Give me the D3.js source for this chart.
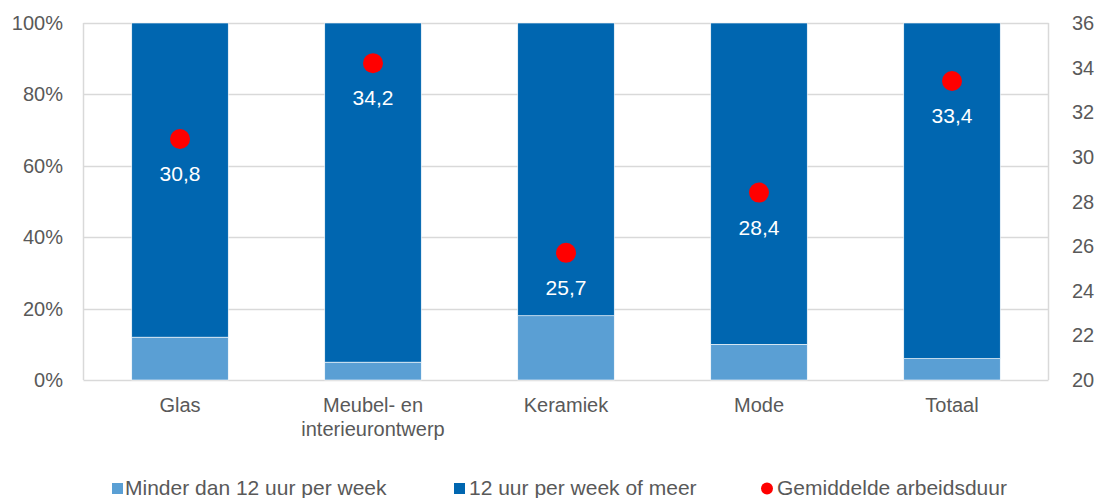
<!DOCTYPE html>
<html>
<head>
<meta charset="utf-8">
<script src="https://cdn.jsdelivr.net/npm/d3@7"></script>
<style>
  body { margin: 0; background: #fff; }
  svg text { font-family: Arial, "Liberation Sans", sans-serif; }
</style>
</head>
<body>
<div class="chart"></div>
<script>
    // Data
    var categories = ["Glas", "Meubel- en interieurontwerp", "Keramiek", "Mode", "Totaal"];
    var categoryLines = [["Glas"], ["Meubel- en", "interieurontwerp"], ["Keramiek"], ["Mode"], ["Totaal"]];
    var minderDan12 = [0.12, 0.05, 0.18, 0.10, 0.06];
    var twaalfOfMeer = [0.88, 0.95, 0.82, 0.90, 0.94];
    var gemiddeldeDuur = [30.8, 34.2, 25.7, 28.4, 33.4];
    var leftTicks = [0, 0.2, 0.4, 0.6, 0.8, 1];
    var rightTicks = [20, 22, 24, 26, 28, 30, 32, 34, 36];
    var seriesNames = ["Minder dan 12 uur per week", "12 uur per week of meer", "Gemiddelde arbeidsduur"];

    var width = 1100, height = 498;
    var plot = { left: 83.5, right: 1048.5, top: 23, bottom: 380 };
    var lightBlue = "#5A9FD4", darkBlue = "#0066B0", red = "#FF0000";
    var textGray = "#595959", gridGray = "#D9D9D9";

    var svg = d3.select(".chart").append("svg")
                .attr("width", width)
                .attr("height", height);

    var x = d3.scaleBand()
              .domain(categories)
              .range([plot.left, plot.right])
              .paddingInner(0.5)
              .paddingOuter(0.25);

    var yLeft = d3.scaleLinear().domain([0, 1]).range([plot.bottom, plot.top]);
    var yRight = d3.scaleLinear().domain([20, 36]).range([plot.bottom, plot.top]);

    // gridlines
    svg.append("g")
       .selectAll("line")
       .data(leftTicks)
       .enter()
       .append("line")
       .attr("x1", plot.left)
       .attr("x2", plot.right)
       .attr("y1", function(d) { return Math.round(yLeft(d)) + 0.5; })
       .attr("y2", function(d) { return Math.round(yLeft(d)) + 0.5; })
       .attr("stroke", gridGray)
       .attr("stroke-width", 1.5);

    // plot area border sides
    svg.append("g")
       .selectAll("line")
       .data([plot.left, plot.right])
       .enter()
       .append("line")
       .attr("x1", function(d) { return d; })
       .attr("x2", function(d) { return d; })
       .attr("y1", plot.top)
       .attr("y2", plot.bottom)
       .attr("stroke", gridGray)
       .attr("stroke-width", 1.5);

    // stacked bars
    var stackRows = categories.map(function(c, i) {
        return { cat: c, low: minderDan12[i], high: twaalfOfMeer[i] };
    });
    var stacked = d3.stack().keys(["low", "high"])(stackRows);
    var colors = { low: lightBlue, high: darkBlue };

    svg.append("g")
       .selectAll("g")
       .data(stacked)
       .enter()
       .append("g")
       .attr("fill", function(d) { return colors[d.key]; })
       .selectAll("rect")
       .data(function(d) { return d; })
       .enter()
       .append("rect")
       .attr("x", function(d) { return x(d.data.cat); })
       .attr("width", x.bandwidth())
       .attr("y", function(d) { return yLeft(d[1]); })
       .attr("height", function(d) { return yLeft(d[0]) - yLeft(d[1]); })
       .attr("stroke", "#fff")
       .attr("stroke-width", 0.6);

    // dots + labels
    var dots = svg.append("g");
    dots.selectAll("circle")
        .data(gemiddeldeDuur)
        .enter()
        .append("circle")
        .attr("cx", function(d, i) { return x(categories[i]) + x.bandwidth() / 2; })
        .attr("cy", function(d) { return yRight(d); })
        .attr("r", 10)
        .attr("fill", red);

    dots.selectAll("text")
        .data(gemiddeldeDuur)
        .enter()
        .append("text")
        .attr("x", function(d, i) { return x(categories[i]) + x.bandwidth() / 2; })
        .attr("y", function(d) { return yRight(d) + 42; })
        .attr("text-anchor", "middle")
        .attr("fill", "#fff")
        .attr("font-size", "21px")
        .text(function(d) { return d.toFixed(1).replace(".", ","); });

    // left axis labels
    svg.append("g")
       .selectAll("text")
       .data(leftTicks)
       .enter()
       .append("text")
       .attr("x", 63)
       .attr("y", function(d) { return yLeft(d) + 7; })
       .attr("text-anchor", "end")
       .attr("fill", textGray)
       .attr("font-size", "20px")
       .text(function(d) { return Math.round(d * 100) + "%"; });

    // right axis labels
    svg.append("g")
       .selectAll("text")
       .data(rightTicks)
       .enter()
       .append("text")
       .attr("x", 1072)
       .attr("y", function(d) { return yRight(d) + 7; })
       .attr("text-anchor", "start")
       .attr("fill", textGray)
       .attr("font-size", "20px")
       .text(function(d) { return d; });

    // category labels
    var catLabels = svg.append("g")
       .selectAll("text")
       .data(categoryLines)
       .enter()
       .append("text")
       .attr("x", function(d, i) { return x(categories[i]) + x.bandwidth() / 2; })
       .attr("y", 412)
       .attr("text-anchor", "middle")
       .attr("fill", textGray)
       .attr("font-size", "20px");

    catLabels.selectAll("tspan")
       .data(function(d) { return d; })
       .enter()
       .append("tspan")
       .attr("x", function() { return d3.select(this.parentNode).attr("x"); })
       .attr("dy", function(d, i) { return i === 0 ? 0 : 24; })
       .text(function(d) { return d; });

    // legend
    var legendItems = [
        { name: seriesNames[0], color: lightBlue, shape: "rect", x: 112, tx: 13 },
        { name: seriesNames[1], color: darkBlue, shape: "rect", x: 454, tx: 15 },
        { name: seriesNames[2], color: red, shape: "circle", x: 761, tx: 16 }
    ];
    var legend = svg.append("g")
                    .selectAll("g")
                    .data(legendItems)
                    .enter()
                    .append("g")
                    .attr("transform", function(d) { return "translate(" + d.x + ",0)"; });

    legend.filter(function(d) { return d.shape === "rect"; })
          .append("rect")
          .attr("x", 0).attr("y", 483)
          .attr("width", 11).attr("height", 11)
          .attr("fill", function(d) { return d.color; });

    legend.filter(function(d) { return d.shape === "circle"; })
          .append("circle")
          .attr("cx", 6).attr("cy", 488.5)
          .attr("r", 6)
          .attr("fill", function(d) { return d.color; });

    legend.append("text")
          .attr("x", function(d) { return d.tx; })
          .attr("y", 495)
          .attr("fill", textGray)
          .attr("font-size", "21px")
          .text(function(d) { return d.name; });
</script>
</body>
</html>
